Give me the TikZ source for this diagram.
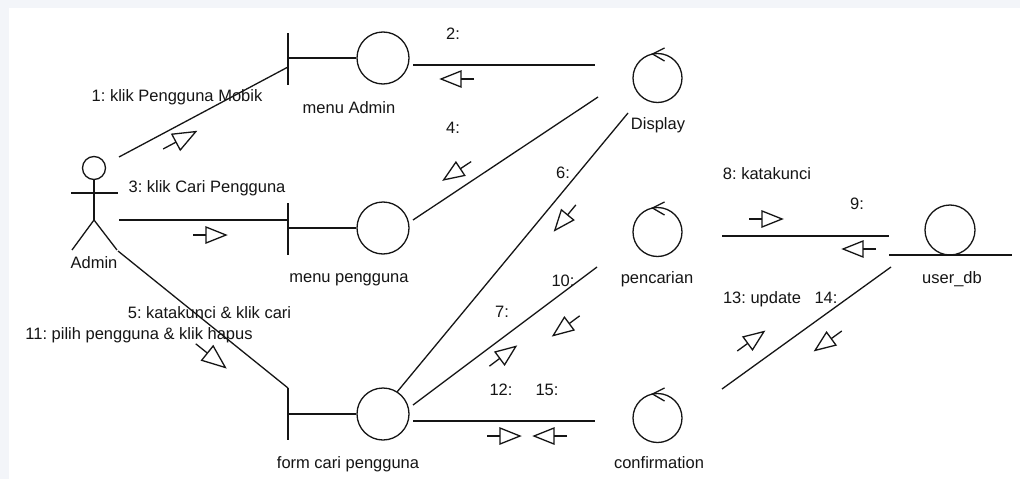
\documentclass[tikz,border=0pt]{standalone}
\usepackage{fontspec}
\setmainfont{Liberation Sans}
\definecolor{bgc}{HTML}{F3F5F9}
\definecolor{ink}{HTML}{151515}
\frenchspacing
\begin{document}
\begin{tikzpicture}[x=1pt,y=-1pt,
  ln/.style={draw=ink, line width=1.3pt},
  lbl/.style={inner sep=0pt, anchor=base, text=ink, font=\fontsize{16.5}{19}\selectfont},
  obj/.style={circle, draw=ink, line width=1.3pt, inner sep=0pt},
  msg/.pic={\draw[ln] (-17,0)--(-4,0); \draw[ln, line join=miter] (-4,8)--(16,0)--(-4,-8)--cycle;},
  chev/.pic={\draw[ln] (7,-30)--(-5,-24)--(7,-17);}
]
\useasboundingbox (0,0) rectangle (1020,479);
\fill[bgc] (0,0) rectangle (1020,479);
\fill[white] (9,8) rectangle (1020,479);

% actor
\node[obj, minimum size=23pt] (head) at (94,168) {};
\draw[ln] (head.south) -- (94,220) coordinate (hip);
\draw[ln] (71,193) -- (118,193);
\draw[ln] (72,250) -- (hip) -- (117,250);
\node[lbl] (tAdmin) at (94,268) {Admin};

% boundaries
\node[obj, minimum size=52pt] (mA) at (383,58) {};
\draw[ln] (288,33) -- (288,85);
\draw[ln] (288,58) -- (mA.west);
\node[lbl] (tmA) at (349,113) {menu Admin};

\node[obj, minimum size=52pt] (mP) at (383,228) {};
\draw[ln] (288,203) -- (288,255);
\draw[ln] (288,228) -- (mP.west);
\node[lbl] (tmP) at (349,282) {menu pengguna};

\node[obj, minimum size=52pt] (fC) at (383,414) {};
\draw[ln] (288,388) -- (288,440);
\draw[ln] (288,414) -- (fC.west);
\node[lbl] (tfC) at (348,468) {form cari pengguna};

% controls
\node[obj, minimum size=49pt] (disp) at (657.5,78) {};
\pic at (disp) {chev};
\node[lbl] (tdisp) at (658,129) {Display};

\node[obj, minimum size=49pt] (penc) at (657.5,232) {};
\pic at (penc) {chev};
\node[lbl] (tpenc) at (657,283) {pencarian};

\node[obj, minimum size=49pt] (conf) at (657.5,418) {};
\pic at (conf) {chev};
\node[lbl] (tconf) at (659,468) {confirmation};

% entity
\node[obj, minimum size=50pt] (udb) at (950,230) {};
\draw[ln] (889,255) -- (1012,255);
\node[lbl] (tudb) at (952,283) {user\_db};

% connector end points
\coordinate (c1a) at (119,157); \coordinate (c1b) at (288,67);
\coordinate (c2a) at (413,65);  \coordinate (c2b) at (595,65);
\coordinate (c3a) at (119,220); \coordinate (c3b) at (288,220);
\coordinate (c4a) at (598,97);  \coordinate (c4b) at (413,220);
\coordinate (c5a) at (118,251); \coordinate (c5b) at (288,388);
\coordinate (c6a) at (628,113); \coordinate (c6b) at (397,392);
\coordinate (c7a) at (413,405); \coordinate (c7b) at (597,267);
\coordinate (c12a) at (413,421); \coordinate (c12b) at (595,421);
\coordinate (c8a) at (722,236); \coordinate (c8b) at (889,236);
\coordinate (c13a) at (722,389); \coordinate (c13b) at (891,267);

\draw[ln] (c1a) -- (c1b);
\draw[ln] (c2a) -- (c2b);
\draw[ln] (c3a) -- (c3b);
\draw[ln] (c4a) -- (c4b);
\draw[ln] (c5a) -- (c5b);
\draw[ln] (c6a) -- (c6b);
\draw[ln] (c7a) -- (c7b);
\draw[ln] (c12a) -- (c12b);
\draw[ln] (c8a) -- (c8b);
\draw[ln] (c13a) -- (c13b);

% message arrows
\pic[rotate=28, scale=1.12] at (180,140) {msg};
\pic[rotate=180] at (457,79) {msg};
\pic at (210,235) {msg};
\pic[rotate=213.6] at (457,171) {msg};
\pic[rotate=-38.7, scale=1.15] at (211,356) {msg};
\pic[rotate=230.4] at (565,218) {msg};
\pic[rotate=36.7] at (503,356) {msg};
\pic[rotate=216.7] at (566,326) {msg};
\pic at (504,436) {msg};
\pic[rotate=180] at (550,436) {msg};
\pic at (766,219) {msg};
\pic[rotate=180] at (859,249) {msg};
\pic[rotate=36] at (751,341) {msg};
\pic[rotate=216] at (828,341) {msg};

% message labels
\node[lbl] (l1) at (177,101) {1: klik Pengguna Mobik};
\node[lbl] (l2) at (453,39) {2:};
\node[lbl] (l3) at (207,192) {3: klik Cari Pengguna};
\node[lbl] (l4) at (453,133) {4:};
\node[lbl] (l5) at (209.5,318) {5: katakunci \& klik cari};
\node[lbl] (l11) at (139,339) {11: pilih pengguna \& klik hapus};
\node[lbl] (l6) at (563,178) {6:};
\node[lbl] (l7) at (502,317) {7:};
\node[lbl] (l10) at (563,286) {10:};
\node[lbl] (l12) at (501,395) {12:};
\node[lbl] (l15) at (547,395) {15:};
\node[lbl] (l8) at (767,179) {8: katakunci};
\node[lbl] (l9) at (857,209) {9:};
\node[lbl] (l13) at (762,303) {13: update};
\node[lbl] (l14) at (826,303) {14:};
\end{tikzpicture}
\end{document}
